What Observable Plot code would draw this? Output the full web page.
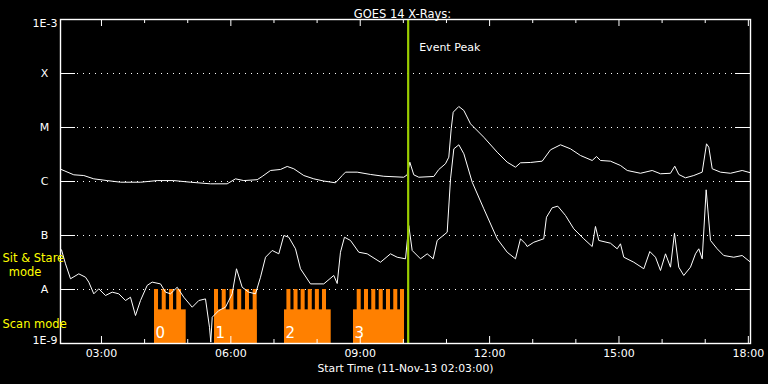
<!DOCTYPE html>
<html>
<head>
<meta charset="utf-8">
<script src="https://cdn.jsdelivr.net/npm/d3@7"></script>
<script src="https://cdn.jsdelivr.net/npm/@observablehq/plot@0.6"></script>
<style>
  html, body { margin: 0; padding: 0; background: #000; }
  #chart svg { display: block; }
</style>
</head>
<body>
<div id="chart"></div>
<script>
// ---------- DATA ----------
const titleText = "GOES 14 X-Rays:";
const xLabelText = "Start Time (11-Nov-13 02:03:00)";
const startTime = "02:03";
const endTime = "18:03";

// GOES long channel (1-8 Å), hours (UT) and flux W/m^2
const hoursLong = [
  2.066, 2.358, 2.59, 2.822, 3.133, 3.441, 3.905, 4.292, 4.677, 5.064,
  5.528, 5.915, 6.108, 6.3, 6.611, 6.727, 6.92, 7.151, 7.307, 7.46,
  7.692, 7.924, 8.155, 8.427, 8.582, 8.659, 8.93, 9.238, 9.547, 10.01,
  10.089, 10.15, 10.242, 10.358, 10.706, 10.822, 10.977, 11.054, 11.11, 11.156,
  11.286, 11.402, 11.557, 11.866, 12.176, 12.408, 12.6, 12.716, 12.948, 13.22,
  13.412, 13.644, 13.876, 14.108, 14.379, 14.479, 14.572, 14.803, 15.035, 15.191,
  15.499, 15.77, 15.963, 16.195, 16.294, 16.387, 16.542, 16.735, 16.93, 17.03,
  17.083, 17.162, 17.354, 17.586, 17.857, 18.05
];
const fluxLong = [
  1.67e-6, 1.33e-6, 1.29e-6, 1.12e-6, 1.04e-6, 0.97e-6, 0.97e-6, 1.04e-6, 1.04e-6, 0.97e-6,
  0.906e-6, 0.906e-6, 1.12e-6, 1.04e-6, 1.08e-6, 1.24e-6, 1.6e-6, 1.67e-6, 1.9e-6, 1.72e-6,
  1.29e-6, 1.12e-6, 1.02e-6, 0.946e-6, 1.29e-6, 1.49e-6, 1.49e-6, 1.35e-6, 1.25e-6, 1.2e-6,
  1.33e-6, 2.28e-6, 1.33e-6, 1.2e-6, 1.24e-6, 1.67e-6, 2.13e-6, 2.82e-6, 9.45e-6, 1.92e-5,
  2.45e-5, 2.07e-5, 1.17e-5, 6.6e-6, 3.49e-6, 2.28e-6, 1.84e-6, 2.22e-6, 2.25e-6, 2.38e-6,
  3.86e-6, 4.78e-6, 4.03e-6, 3.03e-6, 2.45e-6, 2.9e-6, 2.45e-6, 2.38e-6, 1.98e-6, 1.6e-6,
  1.42e-6, 1.6e-6, 1.39e-6, 1.42e-6, 1.92e-6, 1.35e-6, 1.17e-6, 1.29e-6, 1.49e-6, 4.99e-6,
  4.32e-6, 1.72e-6, 1.49e-6, 1.42e-6, 1.6e-6, 1.45e-6
];

// GOES short channel (0.5-4 Å)
const hoursShort = [
  2.073, 2.166, 2.282, 2.474, 2.63, 2.706, 2.822, 2.938, 3.093, 3.249,
  3.402, 3.557, 3.673, 3.789, 3.905, 4.06, 4.176, 4.369, 4.485, 4.601,
  4.756, 4.909, 5.104, 5.257, 5.412, 5.505, 5.535, 5.568, 5.721, 5.876,
  6.031, 6.131, 6.263, 6.416, 6.572, 6.688, 6.804, 6.959, 7.112, 7.228,
  7.344, 7.499, 7.615, 7.847, 8.155, 8.387, 8.466, 8.542, 8.635, 8.774,
  8.967, 9.162, 9.47, 9.702, 9.857, 10.05, 10.126, 10.205, 10.398, 10.553,
  10.692, 10.785, 11.017, 11.094, 11.171, 11.287, 11.403, 11.597, 11.866, 12.176,
  12.408, 12.6, 12.716, 12.832, 12.871, 13.025, 13.256, 13.319, 13.451, 13.581,
  13.76, 13.952, 14.184, 14.379, 14.455, 14.532, 14.803, 14.958, 15.035, 15.112,
  15.344, 15.576, 15.715, 15.847, 15.963, 16.079, 16.195, 16.287, 16.387, 16.503,
  16.658, 16.774, 16.851, 16.93, 17.022, 17.122, 17.277, 17.43, 17.662, 17.857,
  18.05
];
const fluxShort = [
  5.43e-8, 2.99e-8, 1.58e-8, 1.95e-8, 1.69e-8, 1.37e-8, 8.32e-9, 1.03e-8, 7.74e-9, 8.93e-9,
  8.32e-9, 6.25e-9, 7.2e-9, 3.3e-9, 6.25e-9, 1.19e-8, 1.37e-8, 1.27e-8, 8.93e-9, 8.32e-9,
  1.1e-8, 7.2e-9, 4.7e-9, 6.25e-9, 6.7e-9, 2.0e-9, 1.06e-9, 3.07e-9, 4.08e-9, 4.7e-9,
  8.32e-9, 2.42e-8, 1.1e-8, 8.93e-9, 8.32e-9, 1.69e-8, 3.96e-8, 5.28e-8, 4.58e-8, 1.0e-7,
  9.29e-8, 5.67e-8, 2.42e-8, 1.27e-8, 1.27e-8, 1.82e-8, 1.29e-8, 4.9e-8, 9.29e-8, 8.1e-8,
  4.9e-8, 4.58e-8, 3.2e-8, 4.58e-8, 3.96e-8, 3.7e-8, 1.53e-7, 5.28e-8, 3.7e-8, 4.58e-8,
  3.7e-8, 8.1e-8, 1.15e-7, 1.12e-6, 4.03e-6, 4.78e-6, 3.26e-6, 9.7e-7, 3.12e-7, 8.69e-8,
  4.9e-8, 3.7e-8, 8.69e-8, 7.02e-8, 6.25e-8, 7.5e-8, 8.69e-8, 2.18e-7, 3.26e-7, 3.49e-7,
  2.35e-7, 1.33e-7, 8.69e-8, 6.25e-8, 1.47e-7, 8.1e-8, 7.2e-8, 5.67e-8, 7.02e-8, 3.96e-8,
  3.2e-8, 2.42e-8, 5.05e-8, 3.96e-8, 2.25e-8, 4.58e-8, 2.59e-8, 1.1e-7, 2.59e-8, 1.82e-8,
  2.59e-8, 4.58e-8, 5.67e-8, 3.7e-8, 7.02e-7, 8.1e-8, 5.67e-8, 4.26e-8, 3.96e-8, 4.26e-8,
  3.2e-8
];

// Flare class levels
const classValues = [1e-4, 1e-5, 1e-6, 1e-7, 1e-8];
const classNames = ["X", "M", "C", "B", "A"];
const decadeValues = [1e-3, 1e-9];
const decadeNames = ["1E-3", "1E-9"];

// Time ticks
const majorTicks = ["03:00", "06:00", "09:00", "12:00", "15:00", "18:00"];
const minorTicks = ["04:00", "05:00", "07:00", "08:00", "10:00", "11:00",
                    "13:00", "14:00", "16:00", "17:00"];

// Event peak
const eventPeakHour = 10.112;
const eventLabel = "Event Peak";

// Instrument mode (scan vs sit & stare) blocks
const blockLabels = ["0", "1", "2", "3"];
const blockStart = [4.23, 5.621, 7.244, 8.844];
const blockEnd = [4.965, 6.611, 8.327, 10.027];
const stareStart = [
  4.23, 4.409, 4.578, 4.747,
  5.621, 5.8, 5.98, 6.159, 6.34, 6.518,
  7.30, 7.465, 7.63, 7.795, 7.96, 8.125,
  8.93, 9.099, 9.268, 9.44, 9.609, 9.778, 9.934
];
const stareEnd = [
  4.323, 4.502, 4.671, 4.856,
  5.714, 5.893, 6.073, 6.252, 6.433, 6.611,
  7.393, 7.558, 7.723, 7.888, 8.053, 8.218,
  9.023, 9.192, 9.361, 9.533, 9.702, 9.871, 10.027
];
const modeLevels = { floor: 1e-9, scan: 4.2e-9, stare: 1e-8 };

// ---------- BUILD ----------
const T0 = Date.UTC(2013, 10, 11);
const toDate = h => new Date(T0 + h * 3600000);
const hm = s => { const [a, b] = s.split(":").map(Number); return a + b / 60; };

const longData = hoursLong.map((h, i) => ({ t: toDate(h), flux: fluxLong[i] }));
const shortData = hoursShort.map((h, i) => ({ t: toDate(h), flux: fluxShort[i] }));
const blocks = blockLabels.map((l, i) => ({ label: l, t1: toDate(blockStart[i]), t2: toDate(blockEnd[i]) }));
const stares = stareStart.map((s, i) => ({ t1: toDate(s), t2: toDate(stareEnd[i]) }));
const majorDates = majorTicks.map(s => toDate(hm(s)));
const minorDates = minorTicks.map(s => toDate(hm(s)));
const eventDate = toDate(eventPeakHour);

const ORANGE = "#ff8000";
const LIME = "#9acd00";
const FONT = "DejaVu Sans";

const chart = Plot.plot({
  width: 768,
  height: 384,
  marginLeft: 60,
  marginRight: 18,
  marginTop: 19,
  marginBottom: 41,
  style: { background: "#000", color: "#fff", fontFamily: FONT, fontSize: "10.5px", overflow: "visible" },
  x: { type: "utc", domain: [toDate(hm(startTime)), toDate(hm(endTime))], axis: null },
  y: { type: "log", domain: [1e-9, 1e-3], axis: null },
  marks: [
    // dotted class grid
    Plot.tickY(classValues, { y: d => d, stroke: "#fff", strokeWidth: 1, strokeDasharray: "1,5", insetLeft: 17, insetRight: 17 }),
    // instrument mode blocks
    Plot.rect(blocks, { x1: "t1", x2: "t2", y1: modeLevels.floor, y2: modeLevels.scan, fill: ORANGE }),
    Plot.rect(stares, { x1: "t1", x2: "t2", y1: modeLevels.floor, y2: modeLevels.stare, fill: ORANGE }),
    Plot.text(blocks, { x: "t1", y: modeLevels.floor, text: "label", fill: "#fff", dx: 1, dy: -10, textAnchor: "start", fontSize: 15, fontFamily: FONT }),
    // curves
    Plot.line(longData, { x: "t", y: "flux", stroke: "#fff", strokeWidth: 1 }),
    Plot.line(shortData, { x: "t", y: "flux", stroke: "#fff", strokeWidth: 1 }),
    // event peak
    Plot.ruleX([eventDate], { stroke: LIME, strokeWidth: 2.2 }),
    Plot.text([eventLabel], { x: eventDate, frameAnchor: "top", dx: 11, dy: 24, textAnchor: "start", fill: "#fff", fontSize: 11 }),
    // axis ticks (inward)
    Plot.tickX(majorDates, { x: d => d, stroke: "#fff", insetTop: 317 }),
    Plot.tickX(majorDates, { x: d => d, stroke: "#fff", insetBottom: 317 }),
    Plot.tickX(minorDates, { x: d => d, stroke: "#fff", insetTop: 320 }),
    Plot.tickX(minorDates, { x: d => d, stroke: "#fff", insetBottom: 320 }),
    Plot.tickY(classValues, { y: d => d, stroke: "#fff", insetRight: 675 }),
    Plot.tickY(classValues, { y: d => d, stroke: "#fff", insetLeft: 675 }),
    Plot.frame({ stroke: "#fff", strokeWidth: 1.4 }),
    // y labels
    Plot.text(classValues, { y: d => d, text: (d, i) => classNames[i], frameAnchor: "left", dx: -16, textAnchor: "middle", fill: "#fff", fontSize: 11 }),
    Plot.text([decadeValues[0]], { y: d => d, text: [decadeNames[0]], frameAnchor: "left", dx: -3, dy: 4, textAnchor: "end", fill: "#fff", fontSize: 11 }),
    Plot.text([decadeValues[1]], { y: d => d, text: [decadeNames[1]], frameAnchor: "left", dx: -3, dy: -3, textAnchor: "end", fill: "#fff", fontSize: 11 }),
    // mode labels
    Plot.text(["Sit & Stare"], { y: modeLevels.stare, frameAnchor: "left", dx: -58, dy: -31, textAnchor: "start", fill: "#ffff00", fontSize: 11.5 }),
    Plot.text(["mode"], { y: modeLevels.stare, frameAnchor: "left", dx: -35.5, dy: -17.5, textAnchor: "middle", fill: "#ffff00", fontSize: 11.5 }),
    Plot.text(["Scan mode"], { y: modeLevels.floor, frameAnchor: "left", dx: -58, dy: -19, textAnchor: "start", fill: "#ffff00", fontSize: 11.5 }),
    // x tick labels
    Plot.text(majorDates, { x: d => d, text: d => d3.utcFormat("%H:%M")(d), frameAnchor: "bottom", dy: 13, fill: "#fff", fontSize: 11 }),
    // titles
    Plot.text([xLabelText], { frameAnchor: "bottom", dy: 28, fill: "#fff", fontSize: 10.8 }),
    Plot.text([titleText], { frameAnchor: "top", dy: -10, dx: -3, fill: "#fff", fontSize: 11.5 })
  ]
});
document.getElementById("chart").appendChild(chart);
</script>
</body>
</html>
